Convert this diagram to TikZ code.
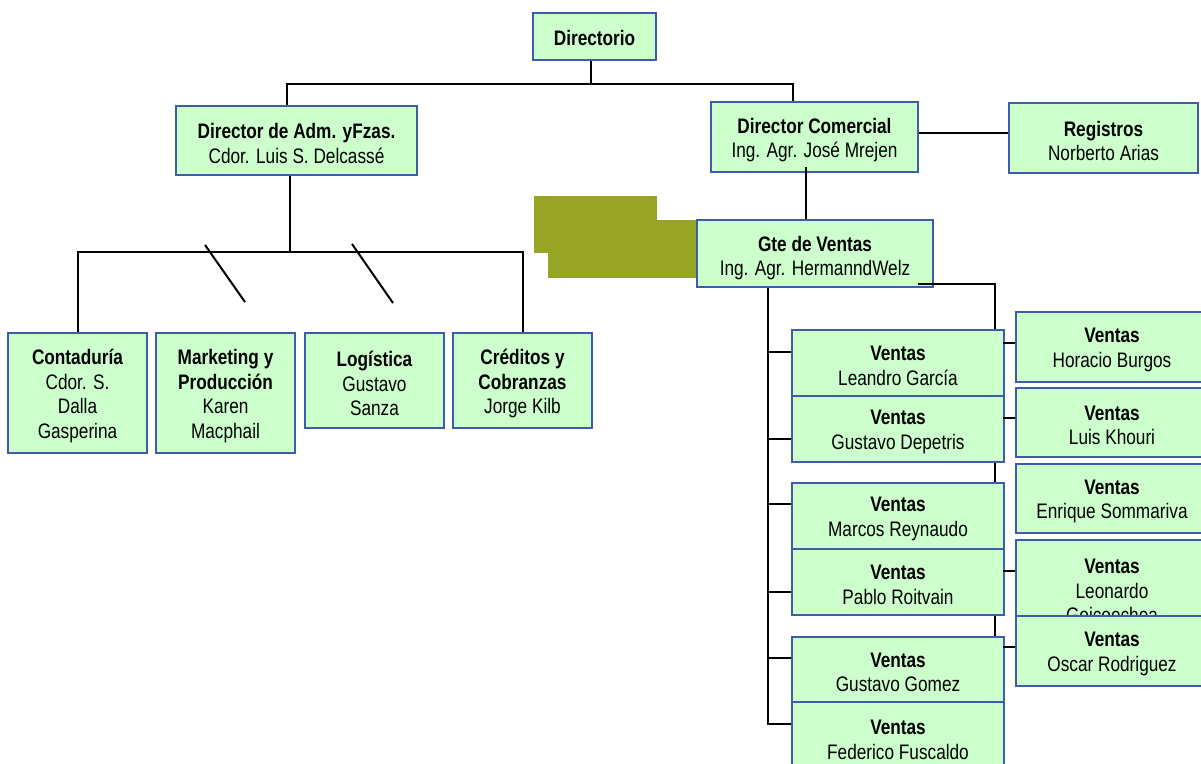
\documentclass[tikz,border=0pt]{standalone}
\usepackage{fontspec}
\setmainfont{Liberation Sans}[FakeStretch=0.82]
\usetikzlibrary{calc}
\definecolor{boxfill}{RGB}{204,255,204}
\definecolor{boxline}{RGB}{62,92,170}
\definecolor{oliveblock}{RGB}{150,165,35}
\begin{document}
\begin{tikzpicture}[x=1pt,y=-1pt,
  box/.style={draw=boxline, fill=boxfill, line width=2.2pt, inner sep=0pt},
  txt/.style={align=center, inner sep=0pt, text=black,
    font=\fontsize{21}{24.5}\selectfont, yshift=-3pt},
  sz/.style 2 args={minimum width=#1pt, minimum height=#2pt},
  conn/.style={draw=black, line width=2pt}]
\useasboundingbox (0,0) rectangle (1201,763);
\clip (0,0) rectangle (1201,763);
\fill[white] (0,0) rectangle (1201,763);

% olive block
\fill[oliveblock] (534,196) rectangle (657,253);
\fill[oliveblock] (548,220) rectangle (700,278);

% junction coordinates
\coordinate (j1) at (591,84);
\coordinate (j2) at (290,253);
\coordinate (t0) at (768,287);
\coordinate (t1) at (768,724);
\coordinate (r0) at (918,284);
\coordinate (r1) at (995,284);
\coordinate (r2) at (995,647);

% upper boxes
\node[box, sz={123}{47}, label={[txt, yshift=2pt]center:{\textbf{Directorio}}}] (dir) at (594.5,36.5) {};
\node[box, sz={241}{69}, label={[txt]center:{\textbf{Director de Adm. yFzas.}\\Cdor. Luis S. Delcassé}}] (adm) at (296.5,140.5) {};
\node[box, sz={207}{70}, label={[txt]center:{\textbf{Director Comercial}\\Ing. Agr. José Mrejen}}] (com) at (814.5,137) {};
\node[box, sz={189}{70}, label={[txt]center:{\textbf{Registros}\\Norberto Arias}}] (reg) at (1103.5,138) {};

% connectors behind boxes
\draw[conn] (dir.south -| j1) -- (j1);
\draw[conn] ($(adm.north)+(-9.5,0)$) |- (j1) -| ($(com.north)+(-21.5,0)$);
\draw[conn] (t0) -- (t1);
\draw[conn] (r0) -- (r1) -- (r2);

\node[box, sz={139}{120}, label={[txt]center:{\textbf{Contaduría}\\Cdor. S.\\Dalla\\Gasperina}}] (cont) at (77.5,393) {};
\node[box, sz={139}{120}, label={[txt]center:{\textbf{Marketing y}\\\textbf{Producción}\\Karen\\Macphail}}] (mkt) at (225.5,393) {};
\node[box, sz={139}{95}, label={[txt]center:{\textbf{Logística}\\Gustavo\\Sanza}}] (log) at (374.5,380.5) {};
\node[box, sz={139}{95}, label={[txt]center:{\textbf{Créditos y}\\\textbf{Cobranzas}\\Jorge Kilb}}] (cred) at (522.5,380.5) {};

\node[box, sz={236}{67}, label={[txt, yshift=-1.5pt]center:{\textbf{Gte de Ventas}\\Ing. Agr. HermanndWelz}}] (gte) at (815,253.5) {};

\node[box, sz={212}{66}, label={[txt]center:{\textbf{Ventas}\\Leandro García}}] (lg) at (898,363) {};
\node[box, sz={212}{66}, label={[txt]center:{\textbf{Ventas}\\Gustavo Depetris}}] (gd) at (898,429) {};
\node[box, sz={212}{66}, label={[txt]center:{\textbf{Ventas}\\Marcos Reynaudo}}] (mr) at (898,516) {};
\node[box, sz={212}{66}, label={[txt]center:{\textbf{Ventas}\\Pablo Roitvain}}] (pr) at (898,582) {};
\node[box, sz={212}{65}, label={[txt]center:{\textbf{Ventas}\\Gustavo Gomez}}] (gg) at (898,669.5) {};
\node[box, sz={212}{70}, label={[txt]center:{\textbf{Ventas}\\Federico Fuscaldo}}] (ff) at (898,737) {};

\node[box, sz={192}{70}, label={[txt]center:{\textbf{Ventas}\\Horacio Burgos}}] (hb) at (1112,347) {};
\node[box, sz={192}{69}, label={[txt]center:{\textbf{Ventas}\\Luis Khouri}}] (lk) at (1112,422.5) {};
\node[box, sz={192}{69}, label={[txt]center:{\textbf{Ventas}\\Enrique Sommariva}}] (es) at (1112,498.5) {};
\node[box, sz={192}{96}, label={[txt]center:{\textbf{Ventas}\\Leonardo\\Goicoechea}}] (lgo) at (1112,588) {};
\node[box, sz={192}{70}, label={[txt]center:{\textbf{Ventas}\\Oscar Rodriguez}}] (or) at (1112,651) {};

% connectors
\draw[conn] ($(com.east)+(0,-4)$) -- ($(reg.west)+(0,-5)$);
\draw[conn] ($(com.south)+(-8.5,-6)$) -- (gte.north -| 806,0);
\draw[conn] (j2 |- adm.south) -- (j2);
\draw[conn] (cont.north) -- ++(0,-80) -| (cred.north);
\draw[conn] (205,245) -- (245,302);
\draw[conn] (352,244) -- (393,303);
\draw[conn] (r0) -- (gte.east |- r0);

\draw[conn] ([yshift=11pt]lg.west) -- +(-24,0);
\draw[conn] ([yshift=-10pt]gd.west) -- +(-24,0);
\draw[conn] ([yshift=12pt]mr.west) -- +(-24,0);
\draw[conn] ([yshift=-10pt]pr.west) -- +(-24,0);
\draw[conn] ([yshift=11.5pt]gg.west) -- +(-24,0);
\draw[conn] ([yshift=13pt]ff.west) -- +(-24,0);

\draw[conn] ([yshift=4pt]hb.west) -- +(-12,0);
\draw[conn] ([yshift=4.5pt]lk.west) -- +(-12,0);
\draw[conn] ([yshift=17pt]lgo.west) -- +(-12,0);
\draw[conn] ([yshift=4pt]or.west) -- +(-12,0);
\end{tikzpicture}
\end{document}
